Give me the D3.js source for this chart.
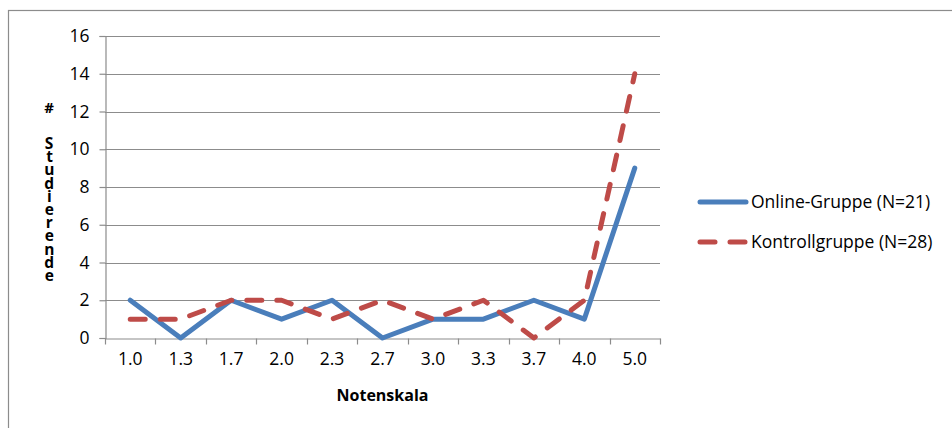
<!DOCTYPE html>
<html>
<head>
<meta charset="utf-8">
<script src="https://cdn.jsdelivr.net/npm/d3@7"></script>
<style>
  html, body { margin: 0; padding: 0; background: #fff; }
  svg { display: block; }
  text { font-family: "Open Sans", "Noto Sans", sans-serif; fill: #000; }
  .stacked { writing-mode: vertical-rl; text-orientation: upright; }
</style>
</head>
<body>
<svg id="chart" width="952" height="428"></svg>
<script>
// Notenskala categories and counts per group
const grades = ["1.0", "1.3", "1.7", "2.0", "2.3", "2.7", "3.0", "3.3", "3.7", "4.0", "5.0"];
const onlineGroup = [2, 0, 2, 1, 2, 0, 1, 1, 2, 1, 9];
const controlGroup = [1, 1, 2, 2, 1, 2, 1, 2, 0, 2, 14];
const yTicks = [0, 2, 4, 6, 8, 10, 12, 14, 16];
const seriesNames = ["Online-Gruppe (N=21)", "Kontrollgruppe (N=28)"];

const svg = d3.select("#chart");
const plot = { left: 105, right: 660, top: 36, bottom: 338 };
const fontStack = '"Open Sans", "Noto Sans", sans-serif';
const labelSize = 17.5;

// outer chart frame
svg.append("rect")
  .attr("x", 8.5).attr("y", 10.5)
  .attr("width", 960).attr("height", 440)
  .attr("fill", "#fff").attr("stroke", "#8c8c8c").attr("stroke-width", 1.2);

const x = d3.scaleBand().domain(grades).range([plot.left, plot.right]);
const y = d3.scaleLinear().domain([0, 16]).range([plot.bottom, plot.top]);

// horizontal gridlines
svg.append("g").selectAll("line").data(yTicks.filter(d => d > 0)).join("line")
  .attr("x1", plot.left).attr("x2", plot.right)
  .attr("y1", d => Math.round(y(d)) + 0.5).attr("y2", d => Math.round(y(d)) + 0.5)
  .attr("stroke", "#8c8c8c").attr("stroke-width", 1.2);

// y axis
const yAxis = svg.append("g")
  .attr("transform", `translate(${plot.left + 0.5},0)`)
  .call(d3.axisLeft(y).tickValues(yTicks).tickSize(6).tickPadding(10).tickFormat(d3.format("d")));
yAxis.select(".domain").attr("stroke", "#8c8c8c").attr("stroke-width", 1.2);
yAxis.selectAll(".tick line").attr("stroke", "#8c8c8c").attr("stroke-width", 1.2);
yAxis.selectAll(".tick text").attr("font-size", labelSize).attr("font-family", fontStack).attr("fill", "#111");

// x axis: ticks sit on the category boundaries
const xAxis = svg.append("g")
  .attr("transform", `translate(0,${plot.bottom + 0.5})`)
  .call(d3.axisBottom(x).tickSize(0).tickPadding(14));
xAxis.select(".domain").attr("stroke", "#8c8c8c").attr("stroke-width", 1.2);
xAxis.selectAll(".tick text").attr("font-size", labelSize).attr("font-family", fontStack).attr("fill", "#111");
const bounds = grades.map(g => x(g)).concat([plot.right]);
xAxis.append("g").selectAll("line").data(bounds).join("line")
  .attr("x1", d => Math.round(d) + 0.5).attr("x2", d => Math.round(d) + 0.5)
  .attr("y1", 0).attr("y2", 6)
  .attr("stroke", "#8c8c8c").attr("stroke-width", 1.2);

// axis titles
svg.append("text")
  .attr("x", (plot.left + plot.right) / 2).attr("y", 401)
  .attr("text-anchor", "middle").attr("font-size", 16).attr("font-weight", "bold")
  .text("Notenskala");

// y title: characters stacked vertically
svg.append("text")
  .attr("x", 49).attr("y", 113)
  .attr("text-anchor", "middle")
  .attr("font-size", 15).attr("font-weight", "bold")
  .text("#");
svg.append("text")
  .attr("class", "stacked")
  .attr("x", 49).attr("y", 132)
  .attr("font-size", 15.5).attr("font-weight", "bold")
  .attr("letter-spacing", -8.8)
  .text("Studierende");

// series lines
const cx = g => x(g) + x.bandwidth() / 2;
const line = d3.line().x((d, i) => cx(grades[i])).y(d => y(d));

svg.append("path").datum(onlineGroup)
  .attr("d", line).attr("fill", "none")
  .attr("stroke", "#4a7ebb").attr("stroke-width", 5)
  .attr("stroke-linejoin", "round").attr("stroke-linecap", "round");

svg.append("path").datum(controlGroup)
  .attr("d", line).attr("fill", "none")
  .attr("stroke", "#be4b48").attr("stroke-width", 5)
  .attr("stroke-dasharray", "15,15")
  .attr("stroke-linejoin", "round").attr("stroke-linecap", "round");

// legend
const legend = svg.append("g");
const legendY = [202, 242];
legend.append("line")
  .attr("x1", 700).attr("x2", 746).attr("y1", legendY[0]).attr("y2", legendY[0])
  .attr("stroke", "#4a7ebb").attr("stroke-width", 5).attr("stroke-linecap", "round");
legend.append("line")
  .attr("x1", 700).attr("x2", 746).attr("y1", legendY[1]).attr("y2", legendY[1])
  .attr("stroke", "#be4b48").attr("stroke-width", 5).attr("stroke-linecap", "round")
  .attr("stroke-dasharray", "15,15");
legend.selectAll("text").data(seriesNames).join("text")
  .attr("x", 751).attr("y", (d, i) => legendY[i] + 6)
  .attr("font-size", labelSize).attr("fill", "#111")
  .text(d => d);
</script>
</body>
</html>
